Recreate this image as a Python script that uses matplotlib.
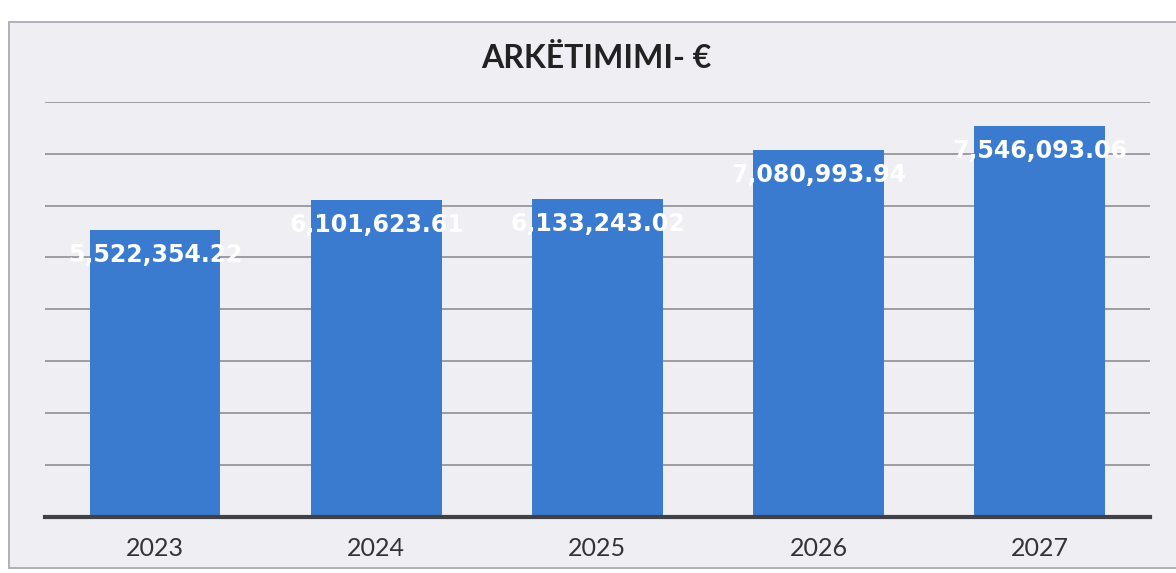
import matplotlib.pyplot as plt
from matplotlib.patches import Rectangle

years = ['2023', '2024', '2025', '2026', '2027']
arketimi = [5522354.22, 6101623.61, 6133243.02, 7080993.94, 7546093.06]

bar_color = '#3b7bcf'
bg_color = '#eeeef3'

fig = plt.figure(figsize=(11.76, 5.73), dpi=100)
fig.patch.set_facecolor('white')

# scanned chart frame (behind the axes)
frame = Rectangle((0.008, 0.009), 1.0, 0.953, transform=fig.transFigure,
                  facecolor=bg_color, edgecolor='#b0b0b8', linewidth=1.4, zorder=-10)
fig.patches.append(frame)

ax = fig.add_axes([0.038, 0.0985, 0.94, 0.7235])
ax.set_facecolor('none')

x = range(len(years))
bars = ax.bar(x, arketimi, width=0.59, color=bar_color, zorder=3)

# white labels, the parts outside the bar vanish on the pale background
for b, v in zip(bars, arketimi):
    ax.annotate(f'{v:,.2f}', (b.get_x() + b.get_width() / 2, v),
                xytext=(0, -18), textcoords='offset points',
                ha='center', va='center', color='white',
                fontsize=17, fontweight='bold', family='DejaVu Sans', zorder=4)

ax.set_ylim(0, 8000000)
ax.set_xlim(-0.5, 4.5)
ax.set_yticks(range(0, 8000001, 1000000))
ax.yaxis.grid(True, color='#86868c', linewidth=1.1)
ax.set_axisbelow(True)
ax.tick_params(axis='y', left=False, labelleft=False)
ax.tick_params(axis='x', bottom=False, pad=11)
ax.set_xticks(list(x))
ax.set_xticklabels(years, fontsize=18, family='Lato', color='#333333')
for s in ['top', 'right', 'left']:
    ax.spines[s].set_visible(False)
ax.spines['bottom'].set_color('#404048')
ax.spines['bottom'].set_linewidth(3)
ax.spines['bottom'].set_zorder(5)

fig.text(0.507, 0.898, 'ARKËTIMIMI- €', ha='center', va='center',
         fontsize=23, fontweight='bold', family='Lato', color='#222222')

fig.savefig('out.png', dpi=100)
